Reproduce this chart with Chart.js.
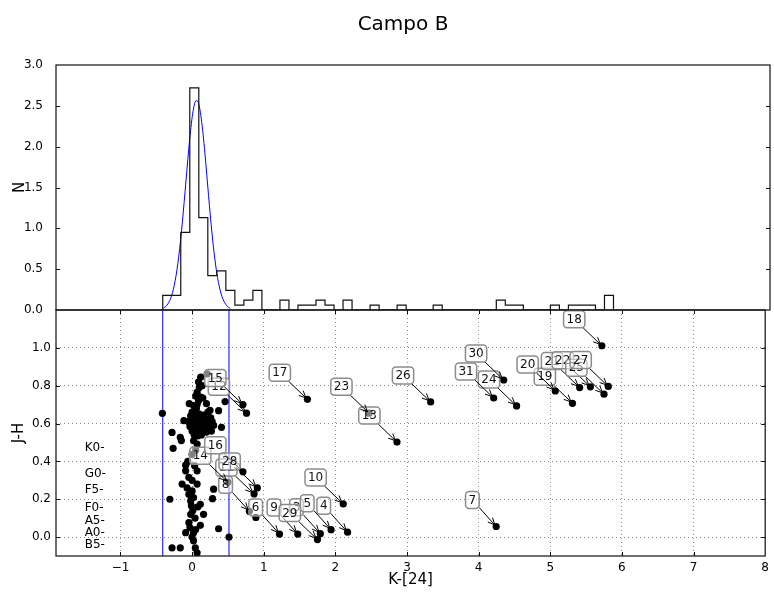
<!DOCTYPE html>
<html>
<head>
<meta charset="utf-8">
<script src="https://cdn.jsdelivr.net/npm/chart.js@4.4.0/dist/chart.umd.min.js"></script>
<style>
  html, body { margin: 0; padding: 0; background: #fff; }
  #wrap { position: relative; width: 774px; height: 593px; }
  #wrap canvas { position: absolute; left: 0; top: 0; }
</style>
</head>
<body>
<div id="wrap">
  <canvas id="histChart" width="774" height="593"></canvas>
  <canvas id="ccdChart" width="774" height="593"></canvas>
</div>
<script>
// Top panel: normalised histogram of K-[24], 50 bins of 0.125 from -0.42
var binStart = -0.42;
var binWidth = 0.125;
var histN = [0.18, 0.18, 0.95, 2.72, 1.13, 0.42, 0.48, 0.24, 0.06, 0.12,
             0.24, 0, 0, 0.12, 0, 0.06, 0.06, 0.12, 0.06, 0,
             0.12, 0, 0, 0.06, 0, 0, 0.06, 0, 0, 0,
             0.06, 0, 0, 0, 0, 0, 0, 0.12, 0.06, 0.06,
             0, 0, 0, 0.06, 0, 0.06, 0.06, 0.06, 0, 0.18];

// gaussian fit (blue)
var gaussK = [-0.41, -0.385, -0.36, -0.335, -0.31, -0.285, -0.26, -0.235, -0.21, -0.185,
              -0.16, -0.135, -0.11, -0.085, -0.06, -0.035, -0.01, 0.015, 0.04, 0.065,
              0.09, 0.115, 0.14, 0.165, 0.19, 0.215, 0.24, 0.265, 0.29, 0.315,
              0.34, 0.365, 0.39, 0.415, 0.44, 0.465, 0.49, 0.515];
var gaussN = [0.023, 0.038, 0.061, 0.095, 0.144, 0.212, 0.304, 0.423, 0.572, 0.753,
              0.965, 1.201, 1.455, 1.714, 1.964, 2.189, 2.372, 2.501, 2.564, 2.557,
              2.480, 2.340, 2.147, 1.916, 1.663, 1.404, 1.152, 0.920, 0.714, 0.540,
              0.397, 0.283, 0.197, 0.133, 0.088, 0.056, 0.035, 0.021];

// limits of the gaussian (vertical blue lines)
var cutK = [-0.41, 0.515];

// Bottom panel: J-H vs K-[24], unlabelled stars
var ccdK = [0.21, 0.12, 0.09, 0.14, 0.10, 0.07, 0.05, 0.12, -0.04, 0.02,
            0.09, 0.20, 0.46, 0.25, 0.37, 0.07, 0.15,
            0.00, 0.04, 0.10, 0.16, 0.22, -0.02, 0.03, 0.08, 0.13, 0.19,
            0.26, -0.05, 0.00, 0.05, 0.10, 0.15, 0.21, 0.28, -0.03, 0.02,
            0.07, 0.12, 0.18, 0.24, 0.00, 0.05, 0.10, 0.15, 0.20, 0.27,
            0.03, 0.08, 0.13, -0.115, 0.41, 0.30, 0.06,
            -0.415, -0.28, -0.165, -0.15, -0.265, 0.02, 0.07, 0.00, -0.09, -0.09,
            0.035, 0.07, -0.14, -0.045, 0.07, 0.00, -0.045, 0.02, -0.02, -0.01,
            0.115, -0.31, 0.30, 0.285, 0.16, -0.02, -0.045, 0.115, -0.09, 0.02,
            0.37, 0.515, -0.28, -0.165, 0.045, 0.07, 0.02, -0.06, 0.05, 0.00,
            0.01, 0.04, -0.03, 0.00, 0.05, 0.08, -0.07, 0.89];
var ccdJH = [0.862, 0.845, 0.82, 0.80, 0.79, 0.765, 0.745, 0.74, 0.705, 0.695,
             0.72, 0.705, 0.716, 0.67, 0.668, 0.70, 0.735,
             0.66, 0.66, 0.65, 0.645, 0.66, 0.64, 0.63, 0.63, 0.63, 0.625,
             0.63, 0.61, 0.61, 0.605, 0.60, 0.61, 0.60, 0.61, 0.585, 0.58,
             0.58, 0.575, 0.58, 0.575, 0.56, 0.555, 0.555, 0.56, 0.555, 0.56,
             0.54, 0.535, 0.54, 0.615, 0.58, 0.59, 0.68,
             0.654, 0.553, 0.527, 0.51, 0.469, 0.509, 0.492, 0.437, 0.38, 0.35,
             0.377, 0.35, 0.28, 0.315, 0.28, 0.244, 0.226, 0.209, 0.191, 0.165,
             0.173, 0.20, 0.253, 0.203, 0.12, 0.12, 0.076, 0.062, 0.023, 0.023,
             0.044, 0.00, -0.057, -0.057, -0.057, -0.083, -0.02, 0.40, 0.46, 0.30,
             0.14, 0.10, 0.05, 0.00, 0.04, 0.16, 0.26, 0.104];

// labelled stars
var labName = ['15', '12', '16', '14', '28', '11', '8', '6', '9', '29',
               '3', '5', '4', '10', '17', '23', '13', '26', '31', '30',
               '24', '7', '20', '19', '21', '22', '25', '27', '18'];
var labK = [0.71, 0.76, 0.71, 0.50, 0.91, 0.865, 0.80, 1.22, 1.475, 1.75,
            1.79, 1.94, 2.17, 2.11, 1.61, 2.47, 2.86, 3.33, 4.21, 4.35,
            4.53, 4.245, 5.07, 5.31, 5.41, 5.56, 5.75, 5.81, 5.72];
var labJH = [0.70, 0.655, 0.345, 0.29, 0.26, 0.228, 0.136, 0.016, 0.016, -0.013,
             0.018, 0.039, 0.026, 0.175, 0.728, 0.655, 0.502, 0.714, 0.735, 0.83,
             0.693, 0.056, 0.772, 0.707, 0.79, 0.794, 0.755, 0.796, 1.011];

// spectral type marks on the left
var spType = ['K0-', 'G0-', 'F5-', 'F0-', 'A5-', 'A0-', 'B5-'];
var spJH = [0.47, 0.335, 0.25, 0.155, 0.085, 0.02, -0.04];
var spK = -1.5;

var xTicks = [-1, 0, 1, 2, 3, 4, 5, 6, 7, 8];
var jhTicks = [0, 0.2, 0.4, 0.6, 0.8, 1.0];

Chart.defaults.font.family = '"DejaVu Sans", sans-serif';
Chart.defaults.color = '#000';

function toPts(xs, ys) {
    return xs.map(function (x, i) { return { x: x, y: ys[i] }; });
}

var histPts = [{ x: binStart, y: 0 }];
histN.forEach(function (h, i) {
    histPts.push({ x: binStart + i * binWidth, y: h });
});
histPts.push({ x: binStart + histN.length * binWidth, y: 0 });

function minusLabel(v) {
    return v < 0 ? '\u2212' + Math.abs(v) : String(v);
}

// box + inward ticks, matplotlib style
var panelFrame = {
    id: 'panelFrame',
    afterDraw: function (chart, args, opts) {
        var a = chart.chartArea, ctx = chart.ctx;
        var xs = chart.scales.x, ys = chart.scales.y;
        var len = 4;
        ctx.save();
        ctx.strokeStyle = '#111';
        ctx.lineWidth = 1;
        ctx.beginPath();
        if (opts.xTicks) {
            xs.ticks.forEach(function (t) {
                var p = Math.round(xs.getPixelForValue(t.value)) + 0.5;
                if (p < a.left + 2 || p > a.right - 2) return;
                ctx.moveTo(p, a.bottom); ctx.lineTo(p, a.bottom - len);
                ctx.moveTo(p, a.top); ctx.lineTo(p, a.top + len);
            });
        }
        ys.ticks.forEach(function (t) {
            var p = Math.round(ys.getPixelForValue(t.value)) + 0.5;
            if (p < a.top + 2 || p > a.bottom - 2) return;
            ctx.moveTo(a.left, p); ctx.lineTo(a.left + len, p);
            ctx.moveTo(a.right, p); ctx.lineTo(a.right - len, p);
        });
        ctx.stroke();
        ctx.lineWidth = 1.2;
        ctx.strokeRect(a.left, a.top, a.right - a.left, a.bottom - a.top);
        ctx.restore();
    }
};

var figTitle = {
    id: 'figTitle',
    afterDraw: function (chart) {
        var ctx = chart.ctx;
        ctx.save();
        ctx.font = '20px "DejaVu Sans"';
        ctx.fillStyle = '#000';
        ctx.textAlign = 'center';
        ctx.textBaseline = 'middle';
        ctx.fillText('Campo B', 403, 25);
        ctx.restore();
    }
};

var spectralMarks = {
    id: 'spectralMarks',
    afterDatasetsDraw: function (chart) {
        var ctx = chart.ctx, xs = chart.scales.x, ys = chart.scales.y;
        ctx.save();
        ctx.font = '12px "DejaVu Sans"';
        ctx.fillStyle = '#000';
        ctx.textAlign = 'left';
        ctx.textBaseline = 'middle';
        spType.forEach(function (s, i) {
            ctx.fillText(s, xs.getPixelForValue(spK), ys.getPixelForValue(spJH[i]));
        });
        ctx.restore();
    }
};

function roundBox(ctx, x0, y0, x1, y1, r) {
    ctx.beginPath();
    ctx.moveTo(x0 + r, y0);
    ctx.arcTo(x1, y0, x1, y1, r);
    ctx.arcTo(x1, y1, x0, y1, r);
    ctx.arcTo(x0, y1, x0, y0, r);
    ctx.arcTo(x0, y0, x1, y0, r);
    ctx.closePath();
}

// numbered boxes with arrows, offset (-20, +20) px, text right/bottom aligned
var pointLabels = {
    id: 'pointLabels',
    afterDatasetsDraw: function (chart) {
        var ctx = chart.ctx, xs = chart.scales.x, ys = chart.scales.y;
        var order = labName.map(function (n, i) { return i; })
            .sort(function (a, b) { return Number(labName[a]) - Number(labName[b]); });
        ctx.save();
        ctx.font = '12px "DejaVu Sans"';
        order.forEach(function (i) {
            var px = xs.getPixelForValue(labK[i]);
            var py = ys.getPixelForValue(labJH[i]);
            var w = ctx.measureText(labName[i]).width;
            var tr = px - 20, tb = py - 20;
            var x0 = tr - w - 3, x1 = tr + 3, y0 = tb - 15, y1 = tb + 2;
            var cx = (x0 + x1) / 2, cy = (y0 + y1) / 2;
            var dx = px - cx, dy = py - cy;
            var len = Math.sqrt(dx * dx + dy * dy);
            var ux = dx / len, uy = dy / len;
            var t = Math.min((x1 - cx) / dx, (y1 - cy) / dy);
            var sx = cx + dx * t, sy = cy + dy * t;
            var ex = px - ux * 2, ey = py - uy * 2;
            var hl = 7, hw = 3.2;

            ctx.strokeStyle = '#000';
            ctx.lineWidth = 1;
            ctx.beginPath();
            ctx.moveTo(sx, sy);
            ctx.lineTo(ex, ey);
            ctx.moveTo(ex - ux * hl - uy * hw, ey - uy * hl + ux * hw);
            ctx.lineTo(ex, ey);
            ctx.lineTo(ex - ux * hl + uy * hw, ey - uy * hl - ux * hw);
            ctx.stroke();

            roundBox(ctx, x0, y0, x1, y1, 3.5);
            ctx.fillStyle = 'rgba(255,255,255,0.5)';
            ctx.fill();
            ctx.strokeStyle = '#8c8c8c';
            ctx.lineWidth = 1.5;
            ctx.stroke();

            ctx.fillStyle = '#111';
            ctx.textAlign = 'center';
            ctx.textBaseline = 'middle';
            ctx.fillText(labName[i], cx, cy + 0.5);
        });
        ctx.restore();
    }
};

// histogram panel
new Chart(document.getElementById('histChart'), {
    type: 'scatter',
    data: {
        datasets: [{
            data: histPts,
            showLine: true,
            stepped: true,
            borderColor: '#111',
            borderWidth: 1.2,
            pointRadius: 0,
            fill: false
        }, {
            data: toPts(gaussK, gaussN),
            showLine: true,
            borderColor: '#0000ff',
            borderWidth: 1,
            pointRadius: 0,
            cubicInterpolationMode: 'monotone',
            fill: false
        }]
    },
    options: {
        responsive: false,
        animation: false,
        layout: { padding: { top: 65, right: 4, bottom: 283, left: 0 } },
        plugins: {
            legend: { display: false },
            tooltip: { enabled: false },
            panelFrame: { xTicks: false }
        },
        scales: {
            x: { type: 'linear', display: false, min: -1.9, max: 8 },
            y: {
                min: 0,
                max: 3,
                ticks: {
                    stepSize: 0.5,
                    padding: 5,
                    font: { size: 12 },
                    color: '#000',
                    callback: function (v) { return v.toFixed(1); }
                },
                grid: { display: false },
                border: { display: false },
                title: { display: true, text: 'N', font: { size: 15 }, padding: { top: 11, bottom: 0 } },
                afterFit: function (s) { s.width = 56; }
            }
        }
    },
    plugins: [panelFrame, figTitle]
});

// colour-colour panel
new Chart(document.getElementById('ccdChart'), {
    type: 'scatter',
    data: {
        datasets: [{
            data: toPts(ccdK, ccdJH),
            pointRadius: 3.6,
            backgroundColor: '#000',
            borderWidth: 0
        }, {
            data: toPts(labK, labJH),
            pointRadius: 3.6,
            backgroundColor: '#000',
            borderWidth: 0
        }, {
            data: [{ x: cutK[0], y: -0.1 }, { x: cutK[0], y: 1.2 }],
            showLine: true,
            borderColor: '#0000ff',
            borderWidth: 1,
            pointRadius: 0
        }, {
            data: [{ x: cutK[1], y: -0.1 }, { x: cutK[1], y: 1.2 }],
            showLine: true,
            borderColor: '#0000ff',
            borderWidth: 1,
            pointRadius: 0
        }]
    },
    options: {
        responsive: false,
        animation: false,
        layout: { padding: { top: 310, right: 4, bottom: 0, left: 0 } },
        plugins: {
            legend: { display: false },
            tooltip: { enabled: false },
            panelFrame: { xTicks: true }
        },
        scales: {
            x: {
                type: 'linear',
                min: -1.9,
                max: 8,
                afterBuildTicks: function (s) {
                    s.ticks = xTicks.map(function (v) { return { value: v }; });
                },
                ticks: {
                    padding: 5,
                    font: { size: 12 },
                    color: '#000',
                    maxRotation: 0,
                    callback: function (v) { return minusLabel(v); }
                },
                grid: { color: '#8a8a8a', lineWidth: 1, drawTicks: false },
                border: { display: false, dash: [1, 3] },
                title: { display: true, text: 'K-[24]', font: { size: 15 }, padding: { top: 0, bottom: 4 } },
                afterFit: function (s) { s.height = 37; }
            },
            y: {
                min: -0.1,
                max: 1.2,
                afterBuildTicks: function (s) {
                    s.ticks = jhTicks.map(function (v) { return { value: v }; });
                },
                ticks: {
                    padding: 5,
                    font: { size: 12 },
                    color: '#000',
                    callback: function (v) { return v.toFixed(1); }
                },
                grid: { color: '#8a8a8a', lineWidth: 1, drawTicks: false },
                border: { display: false, dash: [1, 3] },
                title: { display: true, text: 'J-H', font: { size: 15 }, padding: { top: 10, bottom: 0 } },
                afterFit: function (s) { s.width = 56; }
            }
        }
    },
    plugins: [panelFrame, spectralMarks, pointLabels]
});
</script>
</body>
</html>
